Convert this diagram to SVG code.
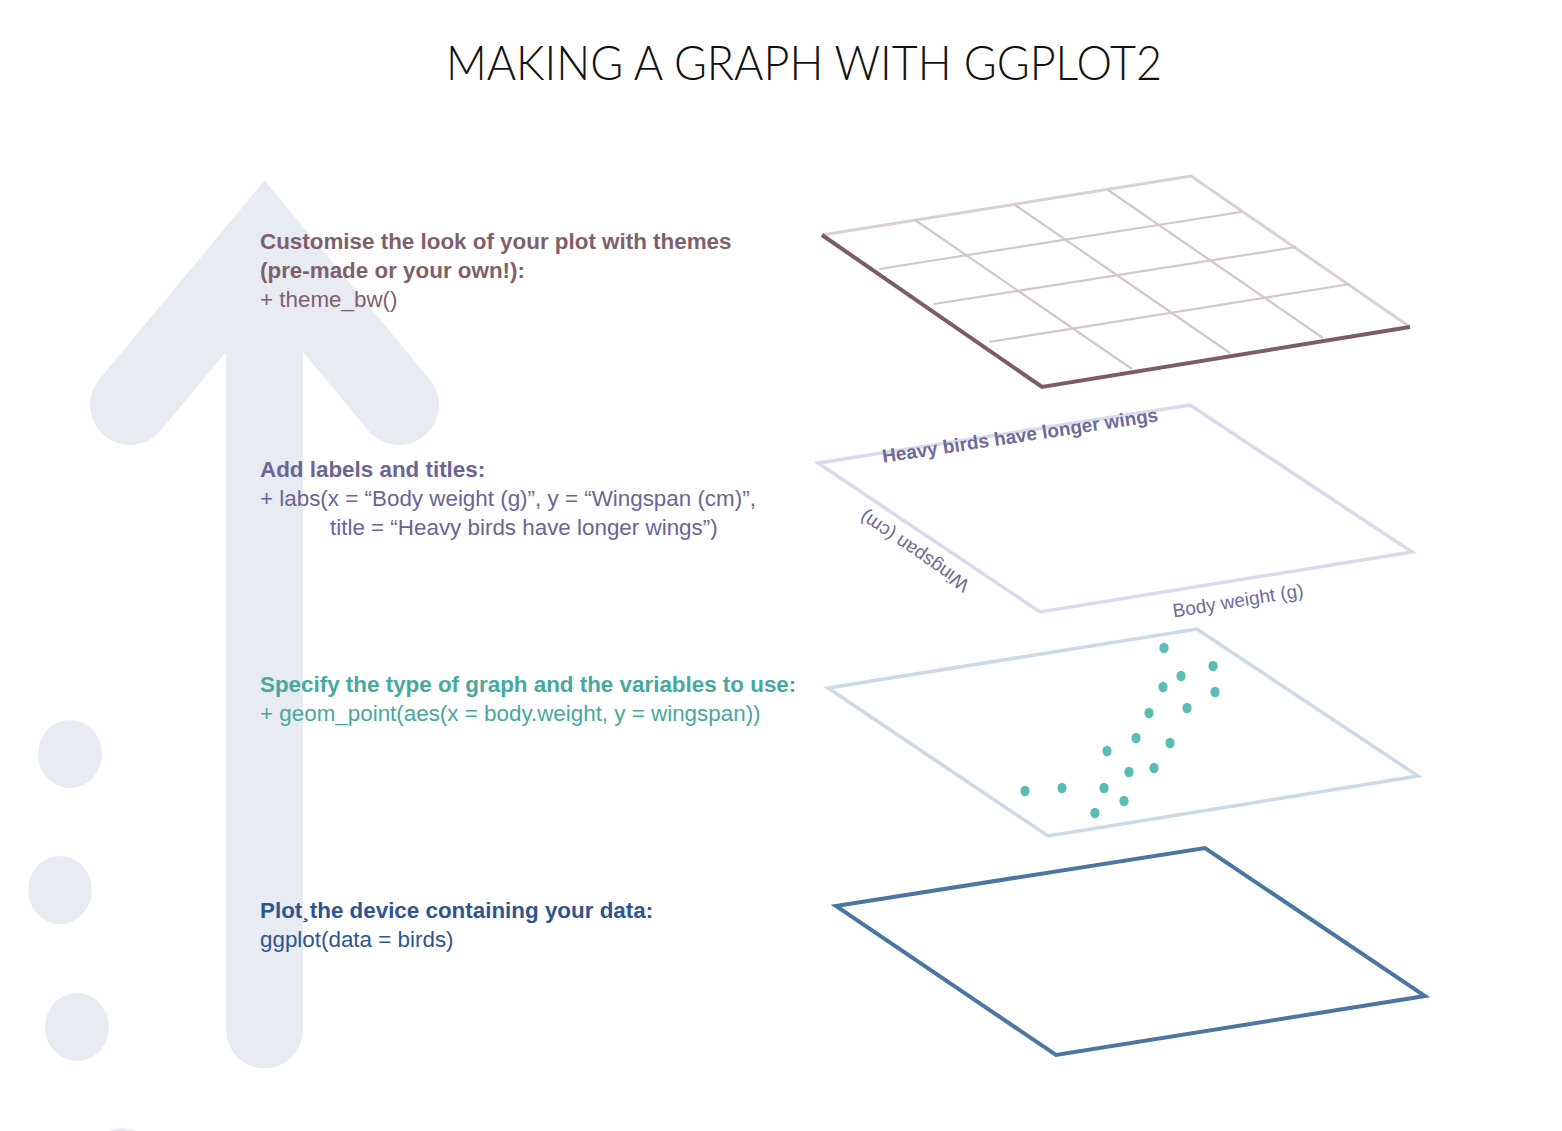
<svg xmlns="http://www.w3.org/2000/svg" width="1562" height="1131" viewBox="0 0 1562 1131">
<style>
.bg{fill:#e8ebf1}
.h{font-family:"Liberation Sans",Arial,sans-serif;font-size:22.4px;font-weight:bold}
.c{font-family:"Liberation Sans",Arial,sans-serif;font-size:22.4px}
.ax{font-family:"Liberation Sans",Arial,sans-serif;font-size:19px}
.grid{stroke:#d3c6ca;stroke-width:2.2;fill:none}
.pt{fill:#5bbcb4}
</style>
<rect width="1562" height="1131" fill="#ffffff"/>
<g id="decoration">
  <polyline points="130,405 264.5,243 399,405" fill="none" stroke="#e8ebf1" stroke-width="80" stroke-linecap="round" stroke-linejoin="miter"/>
  <line x1="264.5" y1="300" x2="264.5" y2="1030" stroke="#e8ebf1" stroke-width="77" stroke-linecap="round"/>
  <ellipse class="bg" cx="70" cy="754" rx="32" ry="34"/>
  <ellipse class="bg" cx="60" cy="890" rx="32" ry="34"/>
  <ellipse class="bg" cx="77" cy="1027" rx="32" ry="34"/>
  <ellipse class="bg" cx="122" cy="1162" rx="32" ry="34"/>
</g>
<text x="804" y="80" text-anchor="middle" textLength="716" lengthAdjust="spacingAndGlyphs" font-family="Lato,'Open Sans',sans-serif" font-weight="300" font-size="48" fill="#111111">MAKING A GRAPH WITH GGPLOT2</text>

<g id="text-theme" fill="#7f5f6c">
  <text class="h" x="260" y="249">Customise the look of your plot with themes</text>
  <text class="h" x="260" y="278">(pre-made or your own!):</text>
  <text class="c" x="260" y="307">+ theme_bw()</text>
</g>
<g id="text-labels" fill="#6b6496">
  <text class="h" x="260" y="477">Add labels and titles:</text>
  <text class="c" x="260" y="506">+ labs(x = “Body weight (g)”, y = “Wingspan (cm)”,</text>
  <text class="c" x="330" y="535">title = “Heavy birds have longer wings”)</text>
</g>
<g id="text-geom" fill="#45a9a0">
  <text class="h" x="260" y="692">Specify the type of graph and the variables to use:</text>
  <text class="c" x="260" y="721">+ geom_point(aes(x = body.weight, y = wingspan))</text>
</g>
<g id="text-ggplot" fill="#2e5592">
  <text class="h" x="260" y="918">Plot¸the device containing your data:</text>
  <text class="c" x="260" y="947">ggplot(data = birds)</text>
</g>

<g id="layer-theme">
  <polyline points="822,235 1191,176 1410,327" fill="none" stroke="#dbd1d4" stroke-width="3"/>
  <line class="grid" x1="915" y1="220" x2="1132" y2="369"/>
  <line class="grid" x1="1015" y1="205" x2="1230" y2="353"/>
  <line class="grid" x1="1108" y1="190" x2="1323" y2="338"/>
  <line class="grid" x1="879" y1="269" x2="1241" y2="212"/>
  <line class="grid" x1="934" y1="304" x2="1296" y2="247"/>
  <line class="grid" x1="989" y1="342" x2="1350" y2="284"/>
  <polyline points="822,235 1042,387 1410,327" fill="none" stroke="#7d5c68" stroke-width="4"/>
</g>

<g id="layer-labels">
  <polygon points="818,463 1190,405 1412,552 1040,612" fill="none" stroke="#d8dbeb" stroke-width="3.5"/>
  <text class="ax" font-weight="bold" font-size="19.5" text-anchor="middle" fill="#6e6a9c" transform="translate(1021,442) rotate(-8.6)">Heavy birds have longer wings</text>
  <text class="ax" text-anchor="middle" fill="#6e6a98" transform="translate(918,546) rotate(214.5)">Wingspan (cm)</text>
  <text class="ax" text-anchor="middle" fill="#6f6ba0" transform="translate(1239,607) rotate(-9.2)">Body weight (g)</text>
</g>

<g id="layer-points">
  <polygon points="828,688 1197,629 1418,776 1048,836" fill="none" stroke="#cdd9e7" stroke-width="3.5"/>
  <g class="pt">
    <ellipse cx="1164" cy="648" rx="4.6" ry="5.3"/>
    <ellipse cx="1213" cy="666" rx="4.6" ry="5.3"/>
    <ellipse cx="1181" cy="676" rx="4.6" ry="5.3"/>
    <ellipse cx="1163" cy="687" rx="4.6" ry="5.3"/>
    <ellipse cx="1215" cy="692" rx="4.6" ry="5.3"/>
    <ellipse cx="1187" cy="708" rx="4.6" ry="5.3"/>
    <ellipse cx="1149" cy="713" rx="4.6" ry="5.3"/>
    <ellipse cx="1136" cy="738" rx="4.6" ry="5.3"/>
    <ellipse cx="1170" cy="743" rx="4.6" ry="5.3"/>
    <ellipse cx="1107" cy="751" rx="4.6" ry="5.3"/>
    <ellipse cx="1154" cy="768" rx="4.6" ry="5.3"/>
    <ellipse cx="1129" cy="772" rx="4.6" ry="5.3"/>
    <ellipse cx="1025" cy="791" rx="4.6" ry="5.3"/>
    <ellipse cx="1062" cy="788" rx="4.6" ry="5.3"/>
    <ellipse cx="1104" cy="788" rx="4.6" ry="5.3"/>
    <ellipse cx="1124" cy="801" rx="4.6" ry="5.3"/>
    <ellipse cx="1095" cy="813" rx="4.6" ry="5.3"/>
  </g>
</g>

<g id="layer-ggplot">
  <polygon points="836,906 1205,848 1425,996 1056,1055" fill="none" stroke="#4b76a4" stroke-width="4"/>
</g>
</svg>
